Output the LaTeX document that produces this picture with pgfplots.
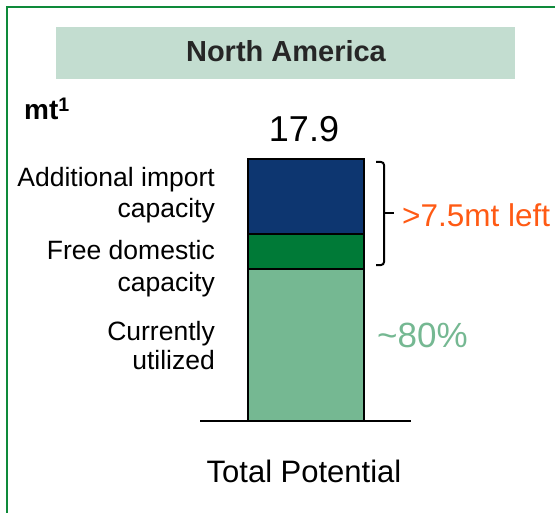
\documentclass[border=0pt]{standalone}
\usepackage{pgfplots}
\pgfplotsset{compat=1.18}
\usepackage{fontspec}
\setmainfont{Liberation Sans}

\definecolor{importblue}{HTML}{0D3670}
\definecolor{domgreen}{HTML}{007A37}
\definecolor{utilgreen}{HTML}{75B892}
\definecolor{framegreen}{HTML}{0E8A3A}
\definecolor{titlefill}{HTML}{C3DDD0}
\definecolor{leftorange}{HTML}{FF5A14}
\newcommand{\fs}[1]{\fontsize{#1bp}{#1bp}\selectfont}

\begin{document}
\begin{tikzpicture}[x=1bp,y=1bp]
\path[use as bounding box] (0,0) rectangle (555,-513);
% panel frame
\draw[framegreen, line width=2bp] (7,-513) -- (7,-7) -- (555,-7);
% region header
\fill[titlefill] (56,-27) rectangle (515,-79);
\node[anchor=base, text=black!85, font=\fs{29}\bfseries, inner sep=0] at (286,-62) {North America};
\node[anchor=base west, font=\fs{28}\bfseries, inner sep=0] at (24,-120) {mt\textsuperscript{1}};

% stacked capacity bar
\begin{axis}[at={(200bp,-421bp)}, anchor=south west, scale only axis,
  width=211bp, height=262bp, xmin=-1, xmax=1, ymin=0, ymax=17.9,
  ybar stacked, bar width=116bp, hide y axis, axis x line*=bottom,
  xtick=\empty, axis line style={-, line width=2bp}, clip=false]
\addplot[fill=utilgreen, draw=black, line width=2bp] coordinates {(0,10.4)};
\addplot[fill=domgreen, draw=black, line width=2bp] coordinates {(0,2.4)};
\addplot[fill=importblue, draw=black, line width=2bp] coordinates {(0,5.1)};
\end{axis}

% total
\node[anchor=base, font=\fs{36}, inner sep=0] at (304,-142) {17.9};
\node[anchor=base, font=\fs{31}, inner sep=0] at (304,-482) {Total Potential};

% segment labels
\begin{scope}[every node/.style={anchor=base east, font=\fs{26.5}, inner sep=0}]
\node at (215,-187) {Additional import};
\node at (215,-218) {capacity};
\node at (215,-259) {Free domestic};
\node at (215,-291) {capacity};
\node at (215,-340) {Currently};
\node at (215,-369) {utilized};
\end{scope}

% bracket over the spare capacity
\draw[line width=2bp, rounded corners=3bp] (376,-162) -- (384,-162) -- (384,-265) -- (376,-265);
\draw[line width=2bp] (384,-213) -- (394,-213);
\node[anchor=base west, font=\fs{31.5}, text=leftorange, inner sep=0] at (402,-226) {>7.5mt left};
\node[anchor=base west, font=\fs{35}, text=utilgreen, inner sep=0] at (377,-347) {\textasciitilde80\%};
\end{tikzpicture}
\end{document}
